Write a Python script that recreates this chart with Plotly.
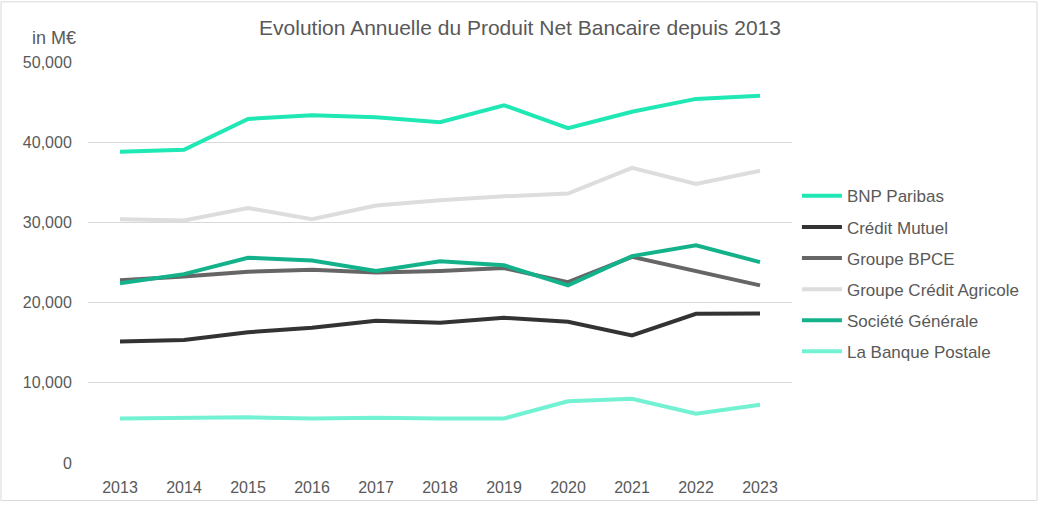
import plotly.graph_objects as go

# Data (PNB, in M€)
years = ['2013', '2014', '2015', '2016', '2017', '2018', '2019', '2020', '2021', '2022', '2023']
bnp = [38800, 39050, 42900, 43350, 43100, 42500, 44600, 41750, 43800, 45400, 45800]
credit_mutuel = [15150, 15350, 16300, 16850, 17750, 17500, 18100, 17600, 15900, 18600, 18650]
bpce = [22800, 23250, 23850, 24100, 23750, 23950, 24300, 22550, 25700, 23950, 22150]
credit_agricole = [30400, 30250, 31800, 30400, 32100, 32750, 33250, 33600, 36800, 34800, 36450]
societe_generale = [22400, 23550, 25600, 25250, 23950, 25150, 24650, 22150, 25800, 27150, 25050]
banque_postale = [5550, 5650, 5700, 5550, 5650, 5550, 5550, 7700, 8000, 6150, 7250]

series = [
    ('BNP Paribas', bnp, '#1FE8B4'),
    ('Crédit Mutuel', credit_mutuel, '#333333'),
    ('Groupe BPCE', bpce, '#666666'),
    ('Groupe Crédit Agricole', credit_agricole, '#DDDDDD'),
    ('Société Générale', societe_generale, '#13B28B'),
    ('La Banque Postale', banque_postale, '#72F2D3'),
]

fig = go.Figure()
for name, vals, col in series:
    fig.add_trace(go.Scatter(x=years, y=vals, name=name, mode='lines',
                             legendgroup=name,
                             line=dict(color=col, width=4)))

font_col = '#595959'
fig.update_layout(
    width=1040, height=508,
    margin=dict(l=88, r=248, t=62, b=40),
    paper_bgcolor='white', plot_bgcolor='white',
    font=dict(family='Liberation Sans, Arial, sans-serif', color=font_col, size=16),
    title=dict(text='Evolution Annuelle du Produit Net Bancaire depuis 2013',
               x=0.5, xanchor='center', y=0.945, yanchor='middle',
               font=dict(size=21, color=font_col)),
    showlegend=True,
    legend=dict(x=1.007, y=0.71, xanchor='left', yanchor='top',
                font=dict(size=17, color=font_col), itemwidth=40,
                tracegroupgap=6, bgcolor='rgba(0,0,0,0)'),
    xaxis=dict(range=[-0.5, 10.5], showgrid=False, showline=False, zeroline=False,
               ticks='outside', ticklen=10, tickcolor='rgba(0,0,0,0)',
               tickfont=dict(size=16, color=font_col)),
    yaxis=dict(range=[0, 50000], dtick=10000, tickformat=',', showline=False,
               gridcolor='#D9D9D9', gridwidth=1, zeroline=False,
               ticks='outside', ticklen=12, tickcolor='rgba(0,0,0,0)',
               tickfont=dict(size=16, color=font_col)),
    annotations=[dict(text='in M€', xref='paper', yref='paper',
                      x=-0.048, y=1.059, xanchor='center', yanchor='middle',
                      showarrow=False, font=dict(size=18, color=font_col))],
    shapes=[dict(type='rect', xref='paper', yref='paper',
                 x0=-0.1236, x1=1.348, y0=-0.0936, y1=1.150,
                 line=dict(color='#D9D9D9', width=1))],
)

fig.write_html('out.html', config={'displayModeBar': False},
               post_script="document.body.style.margin='0';")
